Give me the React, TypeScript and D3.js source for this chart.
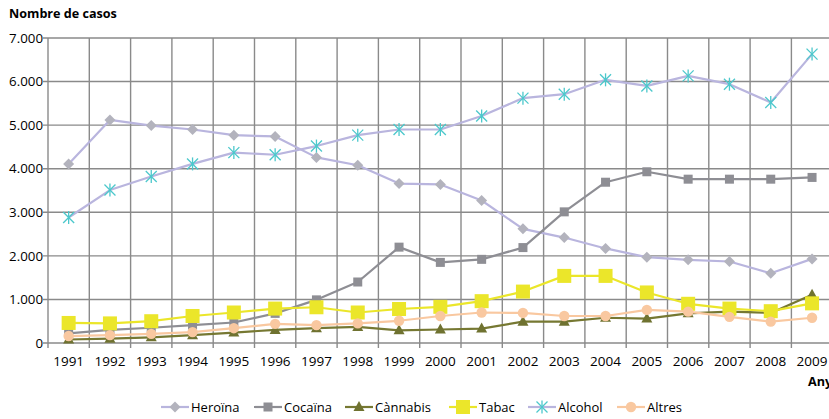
import React from "react";
import * as d3 from "d3";

const years = ["1991","1992","1993","1994","1995","1996","1997","1998","1999","2000","2001","2002","2003","2004","2005","2006","2007","2008","2009"];
const heroina = [4110,5120,4990,4900,4770,4740,4260,4080,3660,3640,3270,2620,2420,2170,1970,1910,1870,1600,1930];
const cocaina = [220,300,350,410,470,680,990,1400,2200,1850,1920,2190,3010,3690,3930,3760,3760,3760,3800];
const cannabis = [80,100,130,180,240,300,340,370,290,310,330,490,490,580,560,680,720,690,1110];
const tabac = [460,450,500,620,700,790,820,700,780,830,960,1180,1540,1540,1160,900,790,730,910];
const alcohol = [2880,3510,3820,4110,4370,4320,4520,4770,4900,4900,5210,5620,5710,6040,5900,6130,5940,5520,6630];
const altres = [160,180,210,250,340,440,410,450,510,620,700,690,620,620,760,720,600,490,580];
const yTicks = [0,1000,2000,3000,4000,5000,6000,7000];

type Marker = "diamond" | "square" | "triangle" | "bigsquare" | "asterisk" | "circle";
const seriesLabels = ["Heroïna","Cocaïna","Cànnabis","Tabac","Alcohol","Altres"];
const seriesValues = [heroina, cocaina, cannabis, tabac, alcohol, altres];
const lineColors = ["#b9b5de","#8e8e94","#767832","#ebe62a","#b9b5de","#f9c8a0"];
const markerColors = ["#b3b3bd","#8e8e94","#6f7230","#ebe62a","#4cc8cc","#f9c8a0"];
const markers: Marker[] = ["diamond","square","triangle","bigsquare","asterisk","circle"];
const legendX = [175, 268, 359, 463, 542, 631];

const FONT = "'Open Sans', sans-serif";

function MarkerShape({ type, x, y, color }: { type: Marker; x: number; y: number; color: string }) {
  switch (type) {
    case "diamond":
      return <path d={`M${x},${y - 5.5}L${x + 5.5},${y}L${x},${y + 5.5}L${x - 5.5},${y}Z`} fill={color} />;
    case "square":
      return <rect x={x - 4.5} y={y - 4.5} width={9} height={9} fill={color} />;
    case "bigsquare":
      return <rect x={x - 7} y={y - 7} width={14} height={14} fill={color} />;
    case "triangle":
      return <path d={`M${x},${y - 6}L${x + 5.5},${y + 4}L${x - 5.5},${y + 4}Z`} fill={color} />;
    case "circle":
      return <circle cx={x} cy={y} r={5.2} fill={color} />;
    case "asterisk": {
      const r = 5.5;
      return (
        <g stroke={color} strokeWidth={1.3}>
          <line x1={x - r} y1={y - r} x2={x + r} y2={y + r} />
          <line x1={x - r} y1={y + r} x2={x + r} y2={y - r} />
          <line x1={x} y1={y - r - 1} x2={x} y2={y + r + 1} />
        </g>
      );
    }
  }
  return null;
}

export default function App() {
  const W = 829, H = 419;
  const left = 48, top = 38, bottom = 343;
  const band = 41.3;
  const x = d3.scaleBand<string>().domain(years).range([left, left + band * years.length]).paddingInner(0).paddingOuter(0);
  const y = d3.scaleLinear().domain([0, 7000]).range([bottom, top]);
  const cx = (yr: string) => (x(yr) as number) + x.bandwidth() / 2;

  const boundaries = d3.range(years.length + 1).map((i) => left + i * x.bandwidth());

  return (
    <svg width={W} height={H} style={{ position: "absolute", left: 0, top: 0, background: "#fff" }} fontFamily={FONT}>
      {yTicks.map((t) => (
        <g key={t}>
          <line x1={left - 5} x2={W} y1={y(t)} y2={y(t)} stroke="#8a8a8a" strokeWidth={1.4} />
          <text x={43} y={y(t)} dy="0.35em" textAnchor="end" fontSize={13.3} fill="#000">
            {d3.format(",")(t).replace(/,/g, ".")}
          </text>
        </g>
      ))}
      {boundaries.map((b, i) => (
        <line key={i} x1={b} x2={b} y1={top} y2={bottom + 5} stroke="#8a8a8a" strokeWidth={1.4} />
      ))}
      {years.map((yr) => (
        <text key={yr} x={cx(yr)} y={366} textAnchor="middle" fontSize={13.5} fill="#000">{yr}</text>
      ))}
      {seriesValues.map((vals, si) => {
        const line = d3.line<number>().x((_, i) => cx(years[i])).y((v) => y(v));
        return (
          <g key={seriesLabels[si]}>
            <path d={line(vals) || ""} fill="none" stroke={lineColors[si]} strokeWidth={2.2} strokeLinejoin="round" />
            {vals.map((v, i) => (
              <MarkerShape key={i} type={markers[si]} x={cx(years[i])} y={y(v)} color={markerColors[si]} />
            ))}
          </g>
        );
      })}
      <text x={9} y={18} fontSize={12.6} fontWeight="bold" fill="#000">Nombre de casos</text>
      <text x={808} y={386} fontSize={12.6} fontWeight="bold" fill="#000">Anys</text>
      {seriesLabels.map((name, si) => {
        const mx = legendX[si];
        const ly = 407;
        return (
          <g key={name}>
            <line x1={mx - 14} x2={mx + 14} y1={ly} y2={ly} stroke={lineColors[si]} strokeWidth={2.2} />
            <MarkerShape type={markers[si]} x={mx} y={ly} color={markerColors[si]} />
            <text x={mx + 16} y={ly} dy="0.35em" fontSize={13} fill="#000">{name}</text>
          </g>
        );
      })}
    </svg>
  );
}
